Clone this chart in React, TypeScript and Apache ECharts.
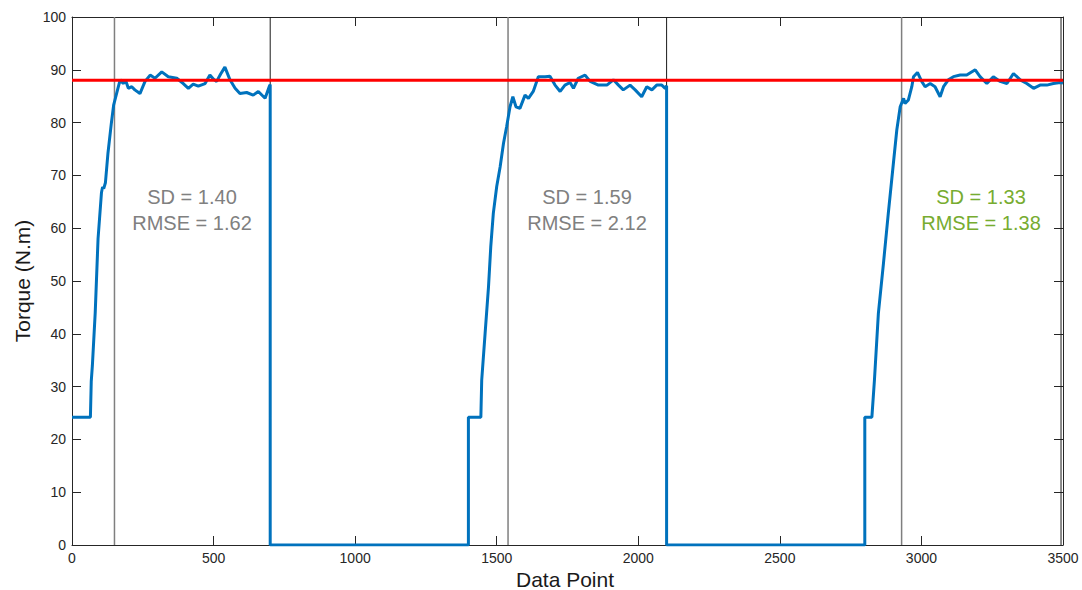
import React, { useEffect, useRef } from "react";
import * as echarts from "echarts";

// Torque trace (Data Point, Torque N.m)
const cycle1: [number, number][] = [
  [0, 24.2], [65, 24.2], [68, 31], [72, 34], [82, 44], [92, 58], [104, 66.7], [108, 67.8], [112, 67.5],
  [118, 68.6], [127, 74.2], [139, 79.9], [147, 83.3], [159, 85.8], [170, 88.1], [181, 87.4], [190, 87.9],
  [199, 86.5], [211, 86.8], [222, 86.2], [240, 85.5], [258, 87.8], [276, 89.0], [293, 88.4], [317, 89.6],
  [340, 88.7], [370, 88.4], [393, 87.4], [411, 86.5], [428, 87.3], [446, 86.9], [470, 87.4], [487, 89.0],
  [500, 88.2], [511, 87.8], [525, 89.2], [540, 90.5], [558, 88.1], [576, 86.5], [593, 85.5], [617, 85.7],
  [640, 85.2], [658, 85.9], [682, 84.6], [697, 86.9], [700, 87.2], [700, 0],
];
const idle1: [number, number][] = [[1400, 0], [1400, 24.2], [1444, 24.2]];
const cycle2: [number, number][] = [
  [1447, 31.2], [1459, 40.1], [1471, 48.9], [1479, 56.5], [1488, 62.8], [1500, 67.9], [1512, 71.6],
  [1524, 76.1], [1535, 79.2], [1547, 83.0], [1557, 84.9], [1568, 83.0], [1582, 82.7], [1600, 85.2],
  [1612, 84.6], [1629, 85.9], [1647, 88.7], [1671, 88.7], [1688, 88.8], [1706, 87.1], [1724, 85.9],
  [1741, 87.1], [1759, 87.6], [1771, 86.5], [1788, 88.4], [1812, 89.0], [1830, 87.8], [1859, 87.1],
  [1889, 87.1], [1912, 88.1], [1930, 87.1], [1947, 86.2], [1971, 87.1], [1989, 86.2], [2012, 84.9],
  [2030, 86.8], [2048, 86.2], [2065, 87.1], [2083, 87.1], [2095, 86.5], [2100, 87], [2100, 0],
];
const idle2: [number, number][] = [[2800, 0], [2800, 24.2], [2825, 24.2]];
const cycle3: [number, number][] = [
  [2834, 31.2], [2848, 43.9], [2866, 53.4], [2883, 62.8], [2901, 72.3], [2913, 78.6], [2925, 83.0],
  [2937, 84.6], [2942, 83.6], [2954, 84.3], [2966, 86.8], [2972, 88.7], [2986, 89.5], [3001, 87.8],
  [3013, 86.8], [3031, 87.4], [3048, 86.8], [3066, 84.9], [3078, 86.8], [3095, 88.1], [3113, 88.7],
  [3137, 89.0], [3160, 89.0], [3190, 90.0], [3207, 88.7], [3231, 87.4], [3254, 88.7], [3278, 87.8],
  [3302, 87.4], [3325, 89.3], [3349, 88.1], [3372, 87.4], [3396, 86.5], [3419, 87.1], [3443, 87.1],
  [3466, 87.4], [3490, 87.6], [3500, 87.5],
];
const targetTorque = 88;
const grayMarkers = [150, 1540, 2930];
const blackMarkers = [700, 2100, 3493];
const statLines = [
  ["SD = 1.40", "RMSE = 1.62"],
  ["SD = 1.59", "RMSE = 2.12"],
  ["SD = 1.33", "RMSE = 1.38"],
];
const statX = [192, 587, 981];
const statColors = ["#808080", "#808080", "#77AC30"];

export default function App() {
  const ref = useRef<HTMLDivElement>(null);
  useEffect(() => {
    document.body.style.margin = "0";
    const chart = echarts.init(ref.current!, undefined, { renderer: "svg" });
    const font = "'Liberation Sans', Arial, Helvetica, sans-serif";
    const trace = [...cycle1, ...idle1, ...cycle2, ...idle2, ...cycle3];
    const vline = (x: number, color: string, width: number) => ({
      type: "line",
      data: [[x, 0], [x, 100]],
      symbol: "none",
      silent: true,
      lineStyle: { color, width },
      z: 1,
    });
    const axisColor = "#262626";
    const graphics: any[] = [];
    statLines.forEach((lines, i) => {
      lines.forEach((t, j) => {
        graphics.push({
          type: "text",
          x: statX[i],
          y: 197 + j * 26,
          style: {
            text: t,
            fill: statColors[i],
            font: `20px ${font}`,
            textAlign: "center",
            textVerticalAlign: "middle",
          },
        });
      });
    });
    graphics.push({
      type: "text",
      x: 565,
      y: 579,
      style: { text: "Data Point", fill: "#1a1a1a", font: `21px ${font}`, textAlign: "center", textVerticalAlign: "middle" },
    });
    graphics.push({
      type: "text",
      x: 22,
      y: 281,
      rotation: Math.PI / 2,
      style: { text: "Torque (N.m)", fill: "#1a1a1a", font: `21px ${font}`, textAlign: "center", textVerticalAlign: "middle" },
    });
    const common = {
      axisLine: { show: true, onZero: false, lineStyle: { color: axisColor, width: 1 } },
      axisTick: { show: true, inside: true, length: 9, lineStyle: { color: axisColor } },
      splitLine: { show: false },
    };
    chart.setOption({
      animation: false,
      grid: { left: 72, right: 19, top: 17, bottom: 45 },
      xAxis: [
        {
          type: "value", position: "bottom", min: 0, max: 3500, interval: 500, ...common,
          axisLabel: { color: axisColor, fontSize: 14, fontFamily: font, margin: 6, formatter: (v: number) => String(v) },
        },
        {
          type: "value", position: "top", min: 0, max: 3500, interval: 500, ...common,
          axisLabel: { show: false },
        },
      ],
      yAxis: [
        {
          type: "value", position: "left", min: 0, max: 100, interval: 10, ...common,
          axisLabel: { color: axisColor, fontSize: 14, fontFamily: font, margin: 6 },
        },
        {
          type: "value", position: "right", min: 0, max: 100, interval: 10, ...common,
          axisLabel: { show: false },
        },
      ],
      series: [
        ...grayMarkers.map((x) => vline(x, "#7f7f7f", 1.5)),
        ...blackMarkers.map((x) => vline(x, "#1a1a1a", 1)),
        {
          type: "line",
          data: trace,
          symbol: "none",
          lineStyle: { color: "#0072BD", width: 3 },
          z: 3,
        },
        {
          type: "line",
          data: [[0, targetTorque], [3500, targetTorque]],
          symbol: "none",
          lineStyle: { color: "#FF0000", width: 3 },
          z: 4,
        },
      ],
      graphic: graphics,
    });
    return () => chart.dispose();
  }, []);
  return <div ref={ref} style={{ width: 1082, height: 590 }} />;
}
